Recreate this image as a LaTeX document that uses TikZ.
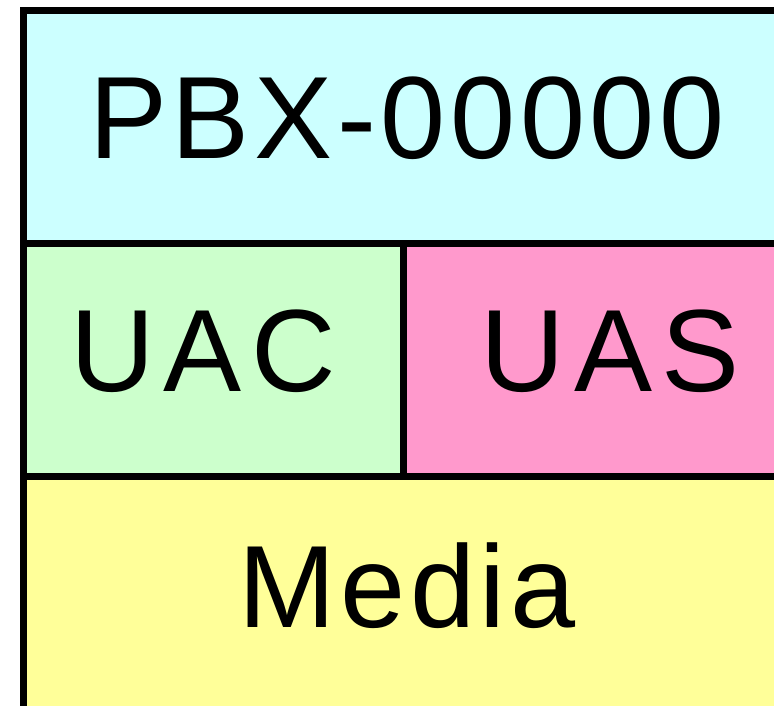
\documentclass[tikz,border=0pt]{standalone}
\usepackage{fontspec}
\setmainfont{Liberation Sans}[LetterSpace=4]
\newfontfamily\roomyfont{Liberation Sans}[LetterSpace=8]
\begin{document}
\begin{tikzpicture}[x=1pt,y=-1pt,
  cell/.style={draw=black,line width=7pt},
  label/.style={inner sep=0pt,anchor=base,font=\fontsize{117}{120}\selectfont},
  roomy/.style={label,font=\roomyfont\fontsize{117}{120}\selectfont}]
\useasboundingbox (0,0) rectangle (774,706);
\clip (0,0) rectangle (774,706);
\fill[white] (0,0) rectangle (774,706);
% layer cells
\filldraw[cell,fill={rgb,255:red,204;green,255;blue,255}] (23.5,10.5) rectangle (830,243.5);
\filldraw[cell,fill={rgb,255:red,204;green,255;blue,204}] (23.5,243.5) rectangle (403,476.5);
\filldraw[cell,fill={rgb,255:red,255;green,153;blue,204}] (403,243.5) rectangle (830,476.5);
\filldraw[cell,fill={rgb,255:red,255;green,255;blue,153}] (23.5,476.5) rectangle (830,760);
% labels
\node[label] (pbx) at (407,159) {PBX-00000};
\node[roomy] (uac) at (203,391) {UAC};
\node[roomy] (uas) at (610,391) {UAS};
\node[label] (media) at (407,627) {Media};
\end{tikzpicture}
\end{document}
